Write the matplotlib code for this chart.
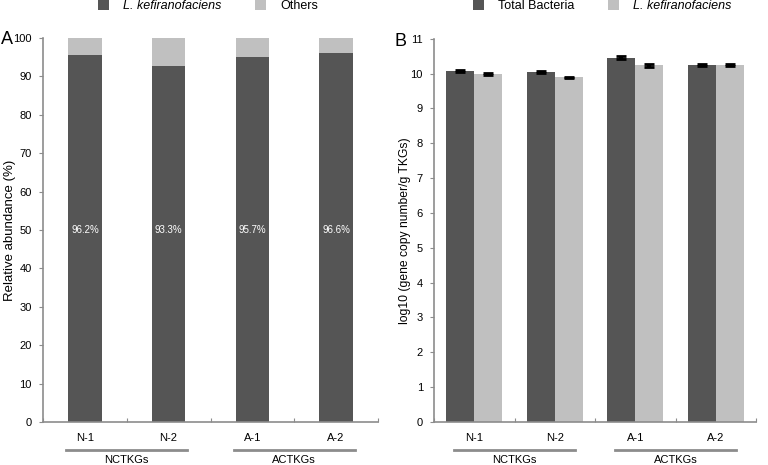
import numpy as np
import matplotlib
matplotlib.use('Agg')
from matplotlib import pyplot as plt

plt.rcParams['font.family'] = ['Liberation Sans', 'DejaVu Sans']

samples = ['N-1', 'N-2', 'A-1', 'A-2']
groups = ['NCTKGs', 'ACTKGs']

# panel A: relative abundance (%)
kefir_pct = [95.7, 92.8, 95.1, 96.2]
others_pct = [100 - v for v in kefir_pct]
pct_labels = ['96.2%', '93.3%', '95.7%', '96.6%']

# panel B: log10 gene copy number
total_log = [10.08, 10.04, 10.46, 10.25]
total_err = [0.03, 0.02, 0.04, 0.02]
kefir_log = [9.99, 9.89, 10.24, 10.24]
kefir_err = [0.02, 0.02, 0.04, 0.02]

dark = '#555555'
light = '#c0c0c0'
axcol = '#8c8c8c'


def style_axis(ax, ymax, ystep):
    for s in ['top', 'right']:
        ax.spines[s].set_visible(False)
    for s in ['left', 'bottom']:
        ax.spines[s].set_color(axcol)
        ax.spines[s].set_linewidth(1.2)
    ax.set_xlim(0, 4)
    ax.set_ylim(0, ymax)
    ax.set_yticks(np.arange(0, ymax + 0.01, ystep))
    ax.set_xticks(np.arange(0, 5))
    ax.set_xticklabels([])
    ax.set_xticks(np.arange(4) + 0.5, minor=True)
    ax.set_xticklabels(samples, minor=True)
    ax.tick_params(axis='x', which='major', length=3, color=axcol, direction='in')
    ax.tick_params(axis='x', which='minor', length=0, pad=8, labelsize=8)
    ax.tick_params(axis='y', length=3, color=axcol, labelsize=8, pad=5)


def group_lines(ax, half):
    tr = ax.get_xaxis_transform()
    for i, g in enumerate(groups):
        c = 1 + 2 * i
        ax.plot([c - half, c + half], [-0.072, -0.072], color=axcol, lw=2,
                transform=tr, clip_on=False)
        ax.text(c, -0.108, g, ha='center', va='baseline', fontsize=8, transform=tr)


fig = plt.figure(figsize=(7.68, 4.65), dpi=100)

# A
ax1 = fig.add_axes([43 / 768, 1 - 422 / 465, 335 / 768, 384 / 465])
x = np.arange(4) + 0.5
ax1.bar(x, kefir_pct, width=0.4, color=dark, label='L. kefiranofaciens')
ax1.bar(x, others_pct, width=0.4, bottom=kefir_pct, color=light, label='Others')
for xi, lab in zip(x, pct_labels):
    ax1.text(xi, 50, lab, ha='center', va='center', color='white', fontsize=7)
style_axis(ax1, 100, 10)
ax1.set_ylabel('Relative abundance (%)', fontsize=9.5)
ax1.yaxis.set_label_coords(-0.08, 0.5)
group_lines(ax1, 0.72)
fig.text(1 / 768, 1 - 40 / 465, 'A', fontsize=13, ha='left', va='center')

leg1 = fig.legend(*ax1.get_legend_handles_labels(), loc='center',
                  bbox_to_anchor=(208 / 768, 1 - 6 / 465), ncol=2, frameon=False,
                  fontsize=9, handlelength=0.9, handleheight=0.9,
                  handletextpad=1.1, columnspacing=2.7, borderpad=0)
leg1.get_texts()[0].set_style('italic')

# B
ax2 = fig.add_axes([434 / 768, 1 - 422 / 465, 322 / 768, 383.3 / 465])
w = 0.35
ax2.bar(x - w / 2, total_log, width=w, color=dark, label='Total Bacteria')
ax2.bar(x + w / 2, kefir_log, width=w, color=light, label='L. kefiranofaciens')
ax2.errorbar(x - w / 2, total_log, yerr=total_err, fmt='none', ecolor='black',
             elinewidth=3, capsize=3.5, capthick=2)
ax2.errorbar(x + w / 2, kefir_log, yerr=kefir_err, fmt='none', ecolor='black',
             elinewidth=3, capsize=3.5, capthick=2)
style_axis(ax2, 11, 1)
ax2.set_ylabel('log10 (gene copy number/g TKGs)', fontsize=8.7)
ax2.yaxis.set_label_coords(-0.072, 0.5)
group_lines(ax2, 0.75)
fig.text(395 / 768, 1 - 42 / 465, 'B', fontsize=13, ha='left', va='center')

leg2 = fig.legend(*ax2.get_legend_handles_labels(), loc='center',
                  bbox_to_anchor=(602 / 768, 1 - 6 / 465), ncol=2, frameon=False,
                  fontsize=9, handlelength=0.9, handleheight=0.9,
                  handletextpad=1.1, columnspacing=2.7, borderpad=0)
leg2.get_texts()[1].set_style('italic')

plt.savefig('out.png', dpi=100)
plt.close()
